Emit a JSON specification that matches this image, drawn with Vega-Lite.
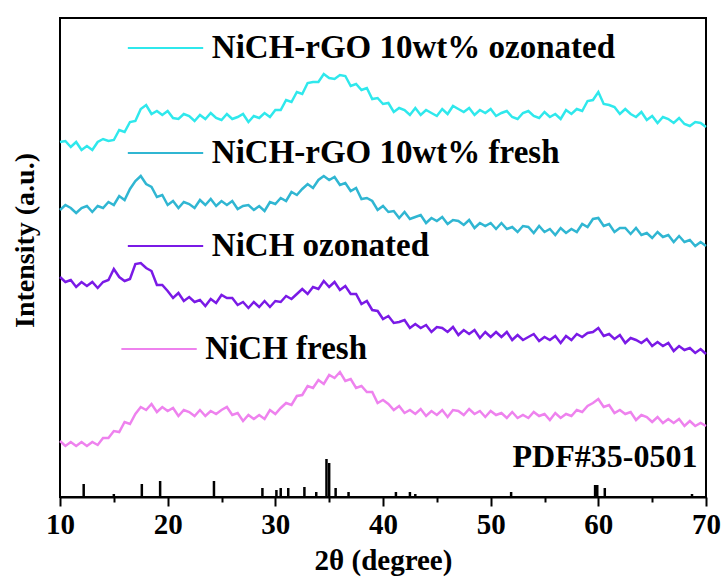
{
"$schema":"https://vega.github.io/schema/vega-lite/v6.json",
"width":646,"height":479,"autosize":"none",
"padding":{"left":60,"top":18,"right":17,"bottom":84},
"background":"white",
"config":{"view":{"stroke":"black","strokeWidth":2},"axis":{"grid":false,"labelFont":"Liberation Serif","titleFont":"Liberation Serif","labelFontWeight":"bold","titleFontWeight":"bold","labelColor":"black","titleColor":"black","domainColor":"black","tickColor":"black"}},
"datasets":{
"curves":[
{"s":"a","x":10,"y":355},{"s":"a","x":10.5,"y":356},{"s":"a","x":11,"y":350},{"s":"a","x":11.5,"y":355},{"s":"a","x":12,"y":347},{"s":"a","x":12.5,"y":351},{"s":"a","x":13,"y":347},{"s":"a","x":13.5,"y":355},{"s":"a","x":14,"y":358},{"s":"a","x":14.5,"y":356},{"s":"a","x":15,"y":357},{"s":"a","x":15.5,"y":367},{"s":"a","x":16,"y":365},{"s":"a","x":16.5,"y":375},{"s":"a","x":17,"y":376},{"s":"a","x":17.5,"y":388},{"s":"a","x":18,"y":392},{"s":"a","x":18.5,"y":383},{"s":"a","x":19,"y":386},{"s":"a","x":19.5,"y":382},{"s":"a","x":20,"y":386},{"s":"a","x":20.5,"y":379},{"s":"a","x":21,"y":378},{"s":"a","x":21.5,"y":383},{"s":"a","x":22,"y":381},{"s":"a","x":22.5,"y":376},{"s":"a","x":23,"y":382},{"s":"a","x":23.5,"y":378},{"s":"a","x":24,"y":384},{"s":"a","x":24.5,"y":379},{"s":"a","x":25,"y":377},{"s":"a","x":25.5,"y":383},{"s":"a","x":26,"y":378},{"s":"a","x":26.5,"y":380},{"s":"a","x":27,"y":383},{"s":"a","x":27.5,"y":375},{"s":"a","x":28,"y":381},{"s":"a","x":28.5,"y":379},{"s":"a","x":29,"y":384},{"s":"a","x":29.5,"y":380},{"s":"a","x":30,"y":387},{"s":"a","x":30.5,"y":387},{"s":"a","x":31,"y":397},{"s":"a","x":31.5,"y":395},{"s":"a","x":32,"y":405},{"s":"a","x":32.5,"y":403},{"s":"a","x":33,"y":414},{"s":"a","x":33.5,"y":415},{"s":"a","x":34,"y":415},{"s":"a","x":34.5,"y":423},{"s":"a","x":35,"y":419},{"s":"a","x":35.5,"y":418},{"s":"a","x":36,"y":422},{"s":"a","x":36.5,"y":421},{"s":"a","x":37,"y":411},{"s":"a","x":37.5,"y":413},{"s":"a","x":38,"y":407},{"s":"a","x":38.5,"y":409},{"s":"a","x":39,"y":398},{"s":"a","x":39.5,"y":399},{"s":"a","x":40,"y":393},{"s":"a","x":40.5,"y":394},{"s":"a","x":41,"y":385},{"s":"a","x":41.5,"y":389},{"s":"a","x":42,"y":387},{"s":"a","x":42.5,"y":382},{"s":"a","x":43,"y":389},{"s":"a","x":43.5,"y":382},{"s":"a","x":44,"y":387},{"s":"a","x":44.5,"y":384},{"s":"a","x":45,"y":381},{"s":"a","x":45.5,"y":388},{"s":"a","x":46,"y":383},{"s":"a","x":46.5,"y":391},{"s":"a","x":47,"y":388},{"s":"a","x":47.5,"y":385},{"s":"a","x":48,"y":389},{"s":"a","x":48.5,"y":382},{"s":"a","x":49,"y":387},{"s":"a","x":49.5,"y":384},{"s":"a","x":50,"y":388},{"s":"a","x":50.5,"y":381},{"s":"a","x":51,"y":384},{"s":"a","x":51.5,"y":386},{"s":"a","x":52,"y":380},{"s":"a","x":52.5,"y":378},{"s":"a","x":53,"y":384},{"s":"a","x":53.5,"y":386},{"s":"a","x":54,"y":381},{"s":"a","x":54.5,"y":379},{"s":"a","x":55,"y":385},{"s":"a","x":55.5,"y":380},{"s":"a","x":56,"y":383},{"s":"a","x":56.5,"y":378},{"s":"a","x":57,"y":387},{"s":"a","x":57.5,"y":383},{"s":"a","x":58,"y":388},{"s":"a","x":58.5,"y":386},{"s":"a","x":59,"y":396},{"s":"a","x":59.5,"y":397},{"s":"a","x":60,"y":405},{"s":"a","x":60.5,"y":393},{"s":"a","x":61,"y":392},{"s":"a","x":61.5,"y":390},{"s":"a","x":62,"y":383},{"s":"a","x":62.5,"y":388},{"s":"a","x":63,"y":383},{"s":"a","x":63.5,"y":380},{"s":"a","x":64,"y":385},{"s":"a","x":64.5,"y":377},{"s":"a","x":65,"y":381},{"s":"a","x":65.5,"y":374},{"s":"a","x":66,"y":380},{"s":"a","x":66.5,"y":378},{"s":"a","x":67,"y":374},{"s":"a","x":67.5,"y":379},{"s":"a","x":68,"y":373},{"s":"a","x":68.5,"y":371},{"s":"a","x":69,"y":375},{"s":"a","x":69.5,"y":374},{"s":"a","x":70,"y":370},
{"s":"b","x":10,"y":287},{"s":"b","x":10.5,"y":292},{"s":"b","x":11,"y":289},{"s":"b","x":11.5,"y":284},{"s":"b","x":12,"y":289},{"s":"b","x":12.5,"y":291},{"s":"b","x":13,"y":285},{"s":"b","x":13.5,"y":291},{"s":"b","x":14,"y":289},{"s":"b","x":14.5,"y":295},{"s":"b","x":15,"y":292},{"s":"b","x":15.5,"y":301},{"s":"b","x":16,"y":297},{"s":"b","x":16.5,"y":308},{"s":"b","x":17,"y":316},{"s":"b","x":17.5,"y":321},{"s":"b","x":18,"y":313},{"s":"b","x":18.5,"y":310},{"s":"b","x":19,"y":300},{"s":"b","x":19.5,"y":302},{"s":"b","x":20,"y":292},{"s":"b","x":20.5,"y":296},{"s":"b","x":21,"y":289},{"s":"b","x":21.5,"y":295},{"s":"b","x":22,"y":293},{"s":"b","x":22.5,"y":289},{"s":"b","x":23,"y":297},{"s":"b","x":23.5,"y":292},{"s":"b","x":24,"y":298},{"s":"b","x":24.5,"y":291},{"s":"b","x":25,"y":296},{"s":"b","x":25.5,"y":292},{"s":"b","x":26,"y":296},{"s":"b","x":26.5,"y":288},{"s":"b","x":27,"y":291},{"s":"b","x":27.5,"y":292},{"s":"b","x":28,"y":287},{"s":"b","x":28.5,"y":291},{"s":"b","x":29,"y":286},{"s":"b","x":29.5,"y":295},{"s":"b","x":30,"y":293},{"s":"b","x":30.5,"y":299},{"s":"b","x":31,"y":296},{"s":"b","x":31.5,"y":305},{"s":"b","x":32,"y":302},{"s":"b","x":32.5,"y":308},{"s":"b","x":33,"y":313},{"s":"b","x":33.5,"y":309},{"s":"b","x":34,"y":317},{"s":"b","x":34.5,"y":321},{"s":"b","x":35,"y":317},{"s":"b","x":35.5,"y":320},{"s":"b","x":36,"y":312},{"s":"b","x":36.5,"y":314},{"s":"b","x":37,"y":306},{"s":"b","x":37.5,"y":309},{"s":"b","x":38,"y":298},{"s":"b","x":38.5,"y":299},{"s":"b","x":39,"y":296},{"s":"b","x":39.5,"y":287},{"s":"b","x":40,"y":291},{"s":"b","x":40.5,"y":285},{"s":"b","x":41,"y":286},{"s":"b","x":41.5,"y":279},{"s":"b","x":42,"y":285},{"s":"b","x":42.5,"y":278},{"s":"b","x":43,"y":280},{"s":"b","x":43.5,"y":282},{"s":"b","x":44,"y":274},{"s":"b","x":44.5,"y":279},{"s":"b","x":45,"y":276},{"s":"b","x":45.5,"y":280},{"s":"b","x":46,"y":273},{"s":"b","x":46.5,"y":277},{"s":"b","x":47,"y":276},{"s":"b","x":47.5,"y":272},{"s":"b","x":48,"y":277},{"s":"b","x":48.5,"y":269},{"s":"b","x":49,"y":274},{"s":"b","x":49.5,"y":271},{"s":"b","x":50,"y":274},{"s":"b","x":50.5,"y":268},{"s":"b","x":51,"y":274},{"s":"b","x":51.5,"y":268},{"s":"b","x":52,"y":270},{"s":"b","x":52.5,"y":265},{"s":"b","x":53,"y":271},{"s":"b","x":53.5,"y":270},{"s":"b","x":54,"y":264},{"s":"b","x":54.5,"y":271},{"s":"b","x":55,"y":265},{"s":"b","x":55.5,"y":268},{"s":"b","x":56,"y":262},{"s":"b","x":56.5,"y":269},{"s":"b","x":57,"y":264},{"s":"b","x":57.5,"y":268},{"s":"b","x":58,"y":265},{"s":"b","x":58.5,"y":273},{"s":"b","x":59,"y":270},{"s":"b","x":59.5,"y":278},{"s":"b","x":60,"y":279},{"s":"b","x":60.5,"y":271},{"s":"b","x":61,"y":273},{"s":"b","x":61.5,"y":265},{"s":"b","x":62,"y":269},{"s":"b","x":62.5,"y":269},{"s":"b","x":63,"y":263},{"s":"b","x":63.5,"y":269},{"s":"b","x":64,"y":262},{"s":"b","x":64.5,"y":264},{"s":"b","x":65,"y":259},{"s":"b","x":65.5,"y":265},{"s":"b","x":66,"y":260},{"s":"b","x":66.5,"y":262},{"s":"b","x":67,"y":255},{"s":"b","x":67.5,"y":261},{"s":"b","x":68,"y":255},{"s":"b","x":68.5,"y":257},{"s":"b","x":69,"y":251},{"s":"b","x":69.5,"y":255},{"s":"b","x":70,"y":251},
{"s":"c","x":10,"y":220},{"s":"c","x":10.5,"y":215},{"s":"c","x":11,"y":217},{"s":"c","x":11.5,"y":210},{"s":"c","x":12,"y":215},{"s":"c","x":12.5,"y":211},{"s":"c","x":13,"y":215},{"s":"c","x":13.5,"y":209},{"s":"c","x":14,"y":215},{"s":"c","x":14.5,"y":217},{"s":"c","x":15,"y":228},{"s":"c","x":15.5,"y":220},{"s":"c","x":16,"y":216},{"s":"c","x":16.5,"y":218},{"s":"c","x":17,"y":233},{"s":"c","x":17.5,"y":234},{"s":"c","x":18,"y":229},{"s":"c","x":18.5,"y":226},{"s":"c","x":19,"y":212},{"s":"c","x":19.5,"y":212},{"s":"c","x":20,"y":206},{"s":"c","x":20.5,"y":199},{"s":"c","x":21,"y":204},{"s":"c","x":21.5,"y":196},{"s":"c","x":22,"y":200},{"s":"c","x":22.5,"y":195},{"s":"c","x":23,"y":197},{"s":"c","x":23.5,"y":191},{"s":"c","x":24,"y":198},{"s":"c","x":24.5,"y":194},{"s":"c","x":25,"y":202},{"s":"c","x":25.5,"y":199},{"s":"c","x":26,"y":199},{"s":"c","x":26.5,"y":192},{"s":"c","x":27,"y":195},{"s":"c","x":27.5,"y":189},{"s":"c","x":28,"y":195},{"s":"c","x":28.5,"y":190},{"s":"c","x":29,"y":196},{"s":"c","x":29.5,"y":190},{"s":"c","x":30,"y":196},{"s":"c","x":30.5,"y":195},{"s":"c","x":31,"y":201},{"s":"c","x":31.5,"y":198},{"s":"c","x":32,"y":203},{"s":"c","x":32.5,"y":208},{"s":"c","x":33,"y":203},{"s":"c","x":33.5,"y":210},{"s":"c","x":34,"y":208},{"s":"c","x":34.5,"y":216},{"s":"c","x":35,"y":210},{"s":"c","x":35.5,"y":215},{"s":"c","x":36,"y":207},{"s":"c","x":36.5,"y":211},{"s":"c","x":37,"y":203},{"s":"c","x":37.5,"y":203},{"s":"c","x":38,"y":193},{"s":"c","x":38.5,"y":196},{"s":"c","x":39,"y":187},{"s":"c","x":39.5,"y":186},{"s":"c","x":40,"y":178},{"s":"c","x":40.5,"y":181},{"s":"c","x":41,"y":174},{"s":"c","x":41.5,"y":175},{"s":"c","x":42,"y":177},{"s":"c","x":42.5,"y":169},{"s":"c","x":43,"y":173},{"s":"c","x":43.5,"y":169},{"s":"c","x":44,"y":172},{"s":"c","x":44.5,"y":165},{"s":"c","x":45,"y":170},{"s":"c","x":45.5,"y":169},{"s":"c","x":46,"y":165},{"s":"c","x":46.5,"y":170},{"s":"c","x":47,"y":162},{"s":"c","x":47.5,"y":167},{"s":"c","x":48,"y":163},{"s":"c","x":48.5,"y":167},{"s":"c","x":49,"y":159},{"s":"c","x":49.5,"y":165},{"s":"c","x":50,"y":160},{"s":"c","x":50.5,"y":165},{"s":"c","x":51,"y":160},{"s":"c","x":51.5,"y":165},{"s":"c","x":52,"y":157},{"s":"c","x":52.5,"y":162},{"s":"c","x":53,"y":157},{"s":"c","x":53.5,"y":160},{"s":"c","x":54,"y":163},{"s":"c","x":54.5,"y":156},{"s":"c","x":55,"y":160},{"s":"c","x":55.5,"y":157},{"s":"c","x":56,"y":161},{"s":"c","x":56.5,"y":154},{"s":"c","x":57,"y":161},{"s":"c","x":57.5,"y":157},{"s":"c","x":58,"y":163},{"s":"c","x":58.5,"y":160},{"s":"c","x":59,"y":164},{"s":"c","x":59.5,"y":165},{"s":"c","x":60,"y":169},{"s":"c","x":60.5,"y":161},{"s":"c","x":61,"y":163},{"s":"c","x":61.5,"y":158},{"s":"c","x":62,"y":162},{"s":"c","x":62.5,"y":154},{"s":"c","x":63,"y":159},{"s":"c","x":63.5,"y":157},{"s":"c","x":64,"y":154},{"s":"c","x":64.5,"y":158},{"s":"c","x":65,"y":151},{"s":"c","x":65.5,"y":155},{"s":"c","x":66,"y":151},{"s":"c","x":66.5,"y":154},{"s":"c","x":67,"y":146},{"s":"c","x":67.5,"y":151},{"s":"c","x":68,"y":147},{"s":"c","x":68.5,"y":149},{"s":"c","x":69,"y":144},{"s":"c","x":69.5,"y":148},{"s":"c","x":70,"y":143},
{"s":"d","x":10,"y":56},{"s":"d","x":10.5,"y":51},{"s":"d","x":11,"y":55},{"s":"d","x":11.5,"y":51},{"s":"d","x":12,"y":55},{"s":"d","x":12.5,"y":51},{"s":"d","x":13,"y":55},{"s":"d","x":13.5,"y":52},{"s":"d","x":14,"y":59},{"s":"d","x":14.5,"y":59},{"s":"d","x":15,"y":66},{"s":"d","x":15.5,"y":65},{"s":"d","x":16,"y":75},{"s":"d","x":16.5,"y":73},{"s":"d","x":17,"y":83},{"s":"d","x":17.5,"y":90},{"s":"d","x":18,"y":87},{"s":"d","x":18.5,"y":93},{"s":"d","x":19,"y":85},{"s":"d","x":19.5,"y":90},{"s":"d","x":20,"y":86},{"s":"d","x":20.5,"y":89},{"s":"d","x":21,"y":81},{"s":"d","x":21.5,"y":87},{"s":"d","x":22,"y":85},{"s":"d","x":22.5,"y":81},{"s":"d","x":23,"y":87},{"s":"d","x":23.5,"y":81},{"s":"d","x":24,"y":86},{"s":"d","x":24.5,"y":83},{"s":"d","x":25,"y":87},{"s":"d","x":25.5,"y":90},{"s":"d","x":26,"y":82},{"s":"d","x":26.5,"y":84},{"s":"d","x":27,"y":76},{"s":"d","x":27.5,"y":82},{"s":"d","x":28,"y":78},{"s":"d","x":28.5,"y":82},{"s":"d","x":29,"y":78},{"s":"d","x":29.5,"y":87},{"s":"d","x":30,"y":83},{"s":"d","x":30.5,"y":89},{"s":"d","x":31,"y":94},{"s":"d","x":31.5,"y":92},{"s":"d","x":32,"y":101},{"s":"d","x":32.5,"y":102},{"s":"d","x":33,"y":111},{"s":"d","x":33.5,"y":109},{"s":"d","x":34,"y":117},{"s":"d","x":34.5,"y":113},{"s":"d","x":35,"y":122},{"s":"d","x":35.5,"y":119},{"s":"d","x":36,"y":125},{"s":"d","x":36.5,"y":116},{"s":"d","x":37,"y":118},{"s":"d","x":37.5,"y":109},{"s":"d","x":38,"y":111},{"s":"d","x":38.5,"y":105},{"s":"d","x":39,"y":105},{"s":"d","x":39.5,"y":94},{"s":"d","x":40,"y":97},{"s":"d","x":40.5,"y":93},{"s":"d","x":41,"y":87},{"s":"d","x":41.5,"y":91},{"s":"d","x":42,"y":84},{"s":"d","x":42.5,"y":87},{"s":"d","x":43,"y":83},{"s":"d","x":43.5,"y":88},{"s":"d","x":44,"y":81},{"s":"d","x":44.5,"y":86},{"s":"d","x":45,"y":82},{"s":"d","x":45.5,"y":87},{"s":"d","x":46,"y":80},{"s":"d","x":46.5,"y":87},{"s":"d","x":47,"y":86},{"s":"d","x":47.5,"y":82},{"s":"d","x":48,"y":88},{"s":"d","x":48.5,"y":83},{"s":"d","x":49,"y":86},{"s":"d","x":49.5,"y":80},{"s":"d","x":50,"y":86},{"s":"d","x":50.5,"y":82},{"s":"d","x":51,"y":84},{"s":"d","x":51.5,"y":79},{"s":"d","x":52,"y":85},{"s":"d","x":52.5,"y":79},{"s":"d","x":53,"y":82},{"s":"d","x":53.5,"y":79},{"s":"d","x":54,"y":85},{"s":"d","x":54.5,"y":81},{"s":"d","x":55,"y":83},{"s":"d","x":55.5,"y":77},{"s":"d","x":56,"y":84},{"s":"d","x":56.5,"y":79},{"s":"d","x":57,"y":83},{"s":"d","x":57.5,"y":81},{"s":"d","x":58,"y":87},{"s":"d","x":58.5,"y":85},{"s":"d","x":59,"y":91},{"s":"d","x":59.5,"y":94},{"s":"d","x":60,"y":98},{"s":"d","x":60.5,"y":90},{"s":"d","x":61,"y":92},{"s":"d","x":61.5,"y":84},{"s":"d","x":62,"y":87},{"s":"d","x":62.5,"y":83},{"s":"d","x":63,"y":85},{"s":"d","x":63.5,"y":77},{"s":"d","x":64,"y":82},{"s":"d","x":64.5,"y":80},{"s":"d","x":65,"y":75},{"s":"d","x":65.5,"y":80},{"s":"d","x":66,"y":74},{"s":"d","x":66.5,"y":78},{"s":"d","x":67,"y":74},{"s":"d","x":67.5,"y":78},{"s":"d","x":68,"y":71},{"s":"d","x":68.5,"y":76},{"s":"d","x":69,"y":71},{"s":"d","x":69.5,"y":74},{"s":"d","x":70,"y":71}
],
"sticks":[
{"x":12.2,"h":13},{"x":15.0,"h":3},{"x":17.6,"h":13},{"x":19.3,"h":16},{"x":24.3,"h":16},{"x":28.8,"h":9},{"x":30.1,"h":7},{"x":30.5,"h":9},{"x":31.2,"h":9},{"x":32.7,"h":10},{"x":33.8,"h":5},{"x":34.75,"h":38},{"x":35.0,"h":34},{"x":35.6,"h":9},{"x":36.8,"h":5},{"x":41.2,"h":5},{"x":42.5,"h":5},{"x":43.0,"h":3},{"x":51.9,"h":5},{"x":59.7,"h":12},{"x":59.9,"h":12},{"x":60.6,"h":9},{"x":68.7,"h":3}
],
"labels":[
{"s":"a","label":"NiCH-rGO 10wt% ozonated","x1":16.3,"x2":23.3,"tx":24.1,"y":449},
{"s":"b","label":"NiCH-rGO 10wt% fresh","x1":16.3,"x2":23.3,"tx":24.1,"y":344},
{"s":"c","label":"NiCH ozonated","x1":16.3,"x2":23.3,"tx":24.1,"y":251},
{"s":"d","label":"NiCH fresh","x1":15.7,"x2":22.7,"tx":23.5,"y":148}
],
"pdf":[{"label":"PDF#35-0501","x":69.2,"y":40}]
},
"layer":[
{"data":{"name":"curves"},"mark":{"type":"line","strokeWidth":2.5},
 "encoding":{
  "x":{"field":"x","type":"quantitative","scale":{"domain":[10,70],"nice":false,"zero":false},
   "axis":{"values":[10,15,20,25,30,35,40,45,50,55,60,65,70],"labelExpr":"datum.value % 10 === 0 ? datum.label : ''","tickSize":{"condition":{"test":"datum.value % 10 === 0","value":9},"value":5},"tickWidth":2,"domainWidth":2,"labelFontSize":29,"labelPadding":4,"labelFlush":false,"labelOverlap":false,"title":"2θ (degree)","titleFontSize":29,"titlePadding":7}},
  "y":{"field":"y","type":"quantitative","scale":{"domain":[0,479],"nice":false,"zero":false},
   "axis":{"ticks":false,"labels":false,"domain":false,"title":"Intensity (a.u.)","titleFontSize":28,"titleAngle":270,"titleBaseline":"middle","titleX":-35,"titleY":222}},
  "color":{"field":"s","type":"nominal","scale":{"domain":["a","b","c","d"],"range":["#2FE8EC","#30B6D2","#7A1AE6","#EE82EE"]},"legend":null}
 }},
{"data":{"name":"sticks"},"mark":{"type":"rule","strokeWidth":2.5,"color":"black"},
 "encoding":{"x":{"field":"x","type":"quantitative"},"y":{"field":"h","type":"quantitative"},"y2":{"datum":0}}},
{"data":{"name":"labels"},"mark":{"type":"rule","strokeWidth":2},
 "encoding":{"x":{"field":"x1","type":"quantitative"},"x2":{"field":"x2"},"y":{"field":"y","type":"quantitative"},"color":{"field":"s","type":"nominal","legend":null}}},
{"data":{"name":"labels"},"mark":{"type":"text","align":"left","baseline":"middle","font":"Liberation Serif","fontWeight":"bold","fontSize":33,"color":"black"},
 "encoding":{"x":{"field":"tx","type":"quantitative"},"y":{"field":"y","type":"quantitative"},"text":{"field":"label"}}},
{"data":{"name":"pdf"},"mark":{"type":"text","align":"right","baseline":"middle","font":"Liberation Serif","fontWeight":"bold","fontSize":32,"color":"black"},
 "encoding":{"x":{"field":"x","type":"quantitative"},"y":{"field":"y","type":"quantitative"},"text":{"field":"label"}}}
]
}
